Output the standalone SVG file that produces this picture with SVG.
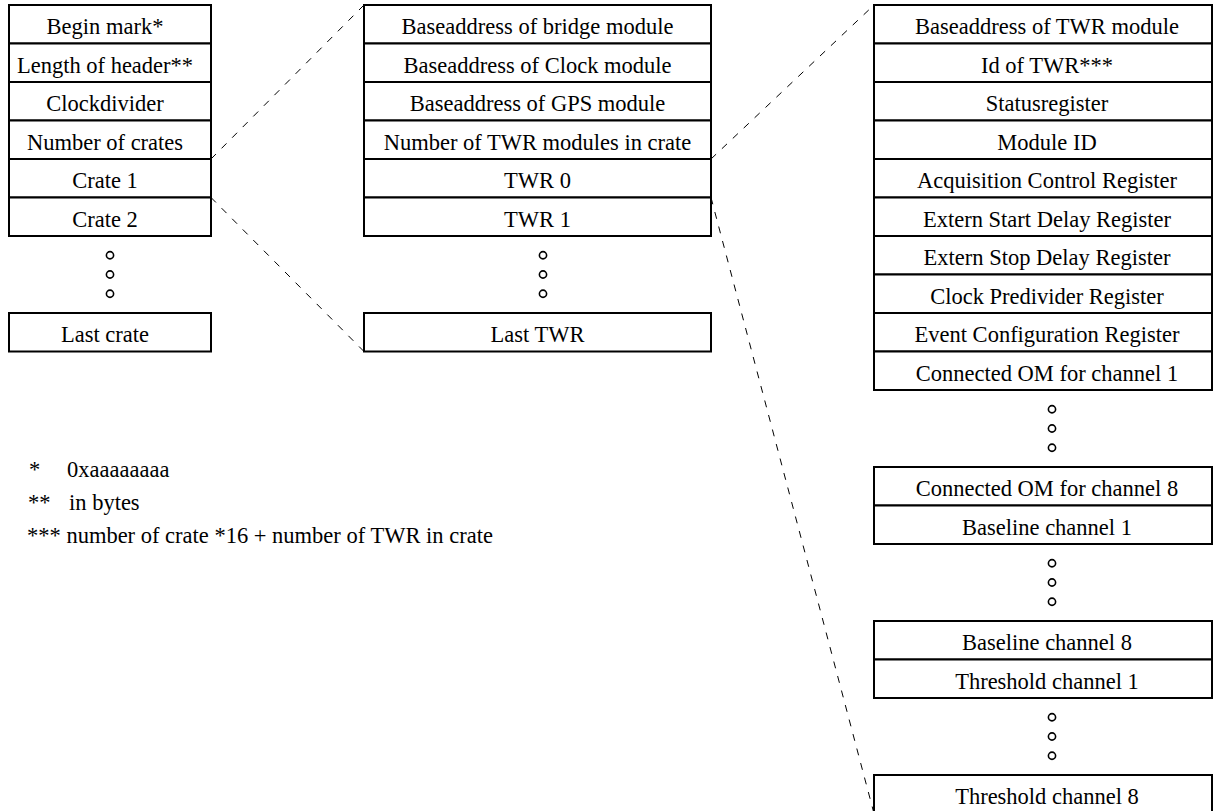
<svg xmlns="http://www.w3.org/2000/svg" width="1214" height="811" viewBox="0 0 1214 811">
<style>
.cell{fill:#fff;stroke:#000;stroke-width:2}
.t{font-family:"Liberation Serif","Times New Roman",serif;font-size:22.5px;fill:#000;text-anchor:middle}
.n{font-family:"Liberation Serif","Times New Roman",serif;font-size:22.5px;fill:#000}
.dot{fill:#fff;stroke:#000;stroke-width:1.6}
.dash{fill:none;stroke:#000;stroke-width:1;stroke-dasharray:7 8}
</style>
<rect width="1214" height="811" fill="#fff"/>
<g id="connectors">
<line class="dash" x1="211" y1="159" x2="364" y2="5"/>
<line class="dash" x1="211" y1="197.5" x2="364" y2="351.5"/>
<line class="dash" x1="711" y1="159" x2="874" y2="5"/>
<line class="dash" x1="711" y1="197.5" x2="874" y2="813.5"/>
</g>
<g id="header">
<g id="begin-mark"><rect class="cell" x="9" y="5" width="202" height="38.5"/><text class="t" x="105" y="34">Begin mark*</text></g>
<g id="length-of-header"><rect class="cell" x="9" y="43.5" width="202" height="38.5"/><text class="t" x="105" y="72.5">Length of header**</text></g>
<g id="clockdivider"><rect class="cell" x="9" y="82" width="202" height="38.5"/><text class="t" x="105" y="111">Clockdivider</text></g>
<g id="number-of-crates"><rect class="cell" x="9" y="120.5" width="202" height="38.5"/><text class="t" x="105" y="149.5">Number of crates</text></g>
<g id="crate-1"><rect class="cell" x="9" y="159" width="202" height="38.5"/><text class="t" x="105" y="188">Crate 1</text></g>
<g id="crate-2"><rect class="cell" x="9" y="197.5" width="202" height="38.5"/><text class="t" x="105" y="226.5">Crate 2</text></g>
<g id="crate-dots"><circle class="dot" cx="110" cy="255.25" r="3.6"/><circle class="dot" cx="110" cy="274.5" r="3.6"/><circle class="dot" cx="110" cy="293.75" r="3.6"/></g>
<g id="last-crate"><rect class="cell" x="9" y="313" width="202" height="38.5"/><text class="t" x="105" y="342">Last crate</text></g>
</g>
<g id="crate">
<g id="base-bridge"><rect class="cell" x="364" y="5" width="347" height="38.5"/><text class="t" x="537.5" y="34">Baseaddress of bridge module</text></g>
<g id="base-clock"><rect class="cell" x="364" y="43.5" width="347" height="38.5"/><text class="t" x="537.5" y="72.5">Baseaddress of Clock module</text></g>
<g id="base-gps"><rect class="cell" x="364" y="82" width="347" height="38.5"/><text class="t" x="537.5" y="111">Baseaddress of GPS module</text></g>
<g id="num-twr"><rect class="cell" x="364" y="120.5" width="347" height="38.5"/><text class="t" x="537.5" y="149.5">Number of TWR modules in crate</text></g>
<g id="twr-0"><rect class="cell" x="364" y="159" width="347" height="38.5"/><text class="t" x="537.5" y="188">TWR 0</text></g>
<g id="twr-1"><rect class="cell" x="364" y="197.5" width="347" height="38.5"/><text class="t" x="537.5" y="226.5">TWR 1</text></g>
<g id="twr-dots"><circle class="dot" cx="543" cy="255.25" r="3.6"/><circle class="dot" cx="543" cy="274.5" r="3.6"/><circle class="dot" cx="543" cy="293.75" r="3.6"/></g>
<g id="last-twr"><rect class="cell" x="364" y="313" width="347" height="38.5"/><text class="t" x="537.5" y="342">Last TWR</text></g>
</g>
<g id="twr">
<g id="base-twr"><rect class="cell" x="874" y="5" width="338" height="38.5"/><text class="t" x="1047" y="34">Baseaddress of TWR module</text></g>
<g id="id-twr"><rect class="cell" x="874" y="43.5" width="338" height="38.5"/><text class="t" x="1047" y="72.5">Id of TWR***</text></g>
<g id="statusregister"><rect class="cell" x="874" y="82" width="338" height="38.5"/><text class="t" x="1047" y="111">Statusregister</text></g>
<g id="module-id"><rect class="cell" x="874" y="120.5" width="338" height="38.5"/><text class="t" x="1047" y="149.5">Module ID</text></g>
<g id="acq-control"><rect class="cell" x="874" y="159" width="338" height="38.5"/><text class="t" x="1047" y="188">Acquisition Control Register</text></g>
<g id="start-delay"><rect class="cell" x="874" y="197.5" width="338" height="38.5"/><text class="t" x="1047" y="226.5">Extern Start Delay Register</text></g>
<g id="stop-delay"><rect class="cell" x="874" y="236" width="338" height="38.5"/><text class="t" x="1047" y="265">Extern Stop Delay Register</text></g>
<g id="predivider"><rect class="cell" x="874" y="274.5" width="338" height="38.5"/><text class="t" x="1047" y="303.5">Clock Predivider Register</text></g>
<g id="event-config"><rect class="cell" x="874" y="313" width="338" height="38.5"/><text class="t" x="1047" y="342">Event Configuration Register</text></g>
<g id="om-1"><rect class="cell" x="874" y="351.5" width="338" height="38.5"/><text class="t" x="1047" y="380.5">Connected OM for channel 1</text></g>
<g id="om-dots"><circle class="dot" cx="1052" cy="409.25" r="3.6"/><circle class="dot" cx="1052" cy="428.5" r="3.6"/><circle class="dot" cx="1052" cy="447.75" r="3.6"/></g>
<g id="om-8"><rect class="cell" x="874" y="467" width="338" height="38.5"/><text class="t" x="1047" y="496">Connected OM for channel 8</text></g>
<g id="baseline-1"><rect class="cell" x="874" y="505.5" width="338" height="38.5"/><text class="t" x="1047" y="534.5">Baseline channel 1</text></g>
<g id="baseline-dots"><circle class="dot" cx="1052" cy="563.25" r="3.6"/><circle class="dot" cx="1052" cy="582.5" r="3.6"/><circle class="dot" cx="1052" cy="601.75" r="3.6"/></g>
<g id="baseline-8"><rect class="cell" x="874" y="621" width="338" height="38.5"/><text class="t" x="1047" y="650">Baseline channel 8</text></g>
<g id="threshold-1"><rect class="cell" x="874" y="659.5" width="338" height="38.5"/><text class="t" x="1047" y="688.5">Threshold channel 1</text></g>
<g id="threshold-dots"><circle class="dot" cx="1052" cy="717.25" r="3.6"/><circle class="dot" cx="1052" cy="736.5" r="3.6"/><circle class="dot" cx="1052" cy="755.75" r="3.6"/></g>
<g id="threshold-8"><rect class="cell" x="874" y="775" width="338" height="40"/><text class="t" x="1047" y="804">Threshold channel 8</text></g>
</g>
<g id="footnotes">
<text class="n" x="29" y="476.5">*</text><text class="n" x="67" y="476.5">0xaaaaaaaa</text>
<text class="n" x="28" y="509.5">**</text><text class="n" x="69" y="509.5">in bytes</text>
<text class="n" x="27" y="542.5">*** number of crate *16 + number of TWR in crate</text>
</g>
</svg>
